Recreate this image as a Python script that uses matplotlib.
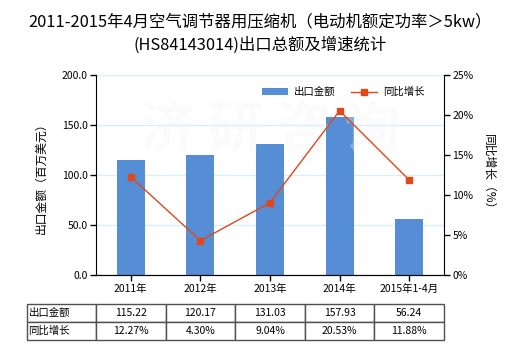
import matplotlib
matplotlib.use("Agg")
import matplotlib.pyplot as plt
from matplotlib.ticker import FuncFormatter

plt.rcParams['font.family'] = ['Noto Sans CJK SC', 'DejaVu Sans']

# data
categories = ["2011年", "2012年", "2013年", "2014年", "2015年1-4月"]
export_values = [115.22, 120.17, 131.03, 157.93, 56.24]
growth_rates = [12.27, 4.30, 9.04, 20.53, 11.88]
value_labels = ["115.22", "120.17", "131.03", "157.93", "56.24"]
growth_labels = ["12.27%", "4.30%", "9.04%", "20.53%", "11.88%"]

bar_color = "#558ED5"
line_color = "#E0481C"

fig = plt.figure(figsize=(5.2, 3.5), dpi=100)
ax = fig.add_axes([0.1846, 0.214, 0.6692, 0.572])
ax2 = ax.twinx()

x = list(range(len(categories)))
bars = ax.bar(x, export_values, width=0.4, color=bar_color, zorder=2, label="出口金额")
line, = ax2.plot(x, growth_rates, color=line_color, lw=1, marker='s', ms=5,
                 zorder=3, label="同比增长")

ax.set_xlim(-0.5, 4.5)
ax.set_ylim(0, 200)
ax2.set_ylim(0, 25)
ax.set_yticks([0, 50, 100, 150, 200])
ax2.set_yticks([0, 5, 10, 15, 20, 25])
ax.yaxis.set_major_formatter(FuncFormatter(lambda v, p: "%.1f" % v))
ax2.yaxis.set_major_formatter(FuncFormatter(lambda v, p: "%d%%" % v))
ax.set_xticks(x)
ax.set_xticklabels(categories)

ax.grid(axis='y', color="#D6F0F4", lw=1, zorder=0)
ax.set_axisbelow(True)
for a in (ax, ax2):
    a.spines['top'].set_visible(False)
    a.tick_params(labelsize=7.5, length=4, width=1, pad=2)
ax2.spines['left'].set_visible(False)
ax.spines['right'].set_visible(False)

ax.set_ylabel("出口金额（百万美元）", fontsize=8.5, labelpad=10)
ax2.set_ylabel("同比增长（%）", fontsize=8.5, rotation=270, labelpad=16)

# faint watermark
ax.text(0.5, 0.72, "济 研 咨 询", transform=ax.transAxes, fontsize=40,
        fontweight='bold', color="#f2f2f2", alpha=0.3, ha='center',
        va='center', zorder=5)

fig.text(0.5, 0.937, "2011-2015年4月空气调节器用压缩机（电动机额定功率＞5kw）",
         ha='center', va='center', fontsize=11.8)
fig.text(0.5, 0.872, "(HS84143014)出口总额及增速统计", ha='center',
         va='center', fontsize=11.8)

fig.legend(handles=[bars, line], loc='center', bbox_to_anchor=(0.66, 0.737),
           ncol=2, frameon=False, fontsize=7.5, handlelength=2.5,
           columnspacing=1.5, handletextpad=0.6)

# data table under the chart
cell_text = [["出口金额"] + value_labels, ["同比增长"] + growth_labels]
col_w = [69 / 348] + [1 / 5.0] * 5
tbl = ax.table(cellText=cell_text, colWidths=col_w, cellLoc='center',
               bbox=[-69 / 348, -0.325, 1 + 69 / 348, 0.18])
tbl.auto_set_font_size(False)
tbl.set_fontsize(7.5)
for (r, c), cell in tbl.get_celld().items():
    cell.set_edgecolor("#505050")
    cell.set_linewidth(1)
    if c == 0:
        cell.get_text().set_ha('left')
        cell.PAD = 0.02

fig.savefig("out.png", dpi=100)
